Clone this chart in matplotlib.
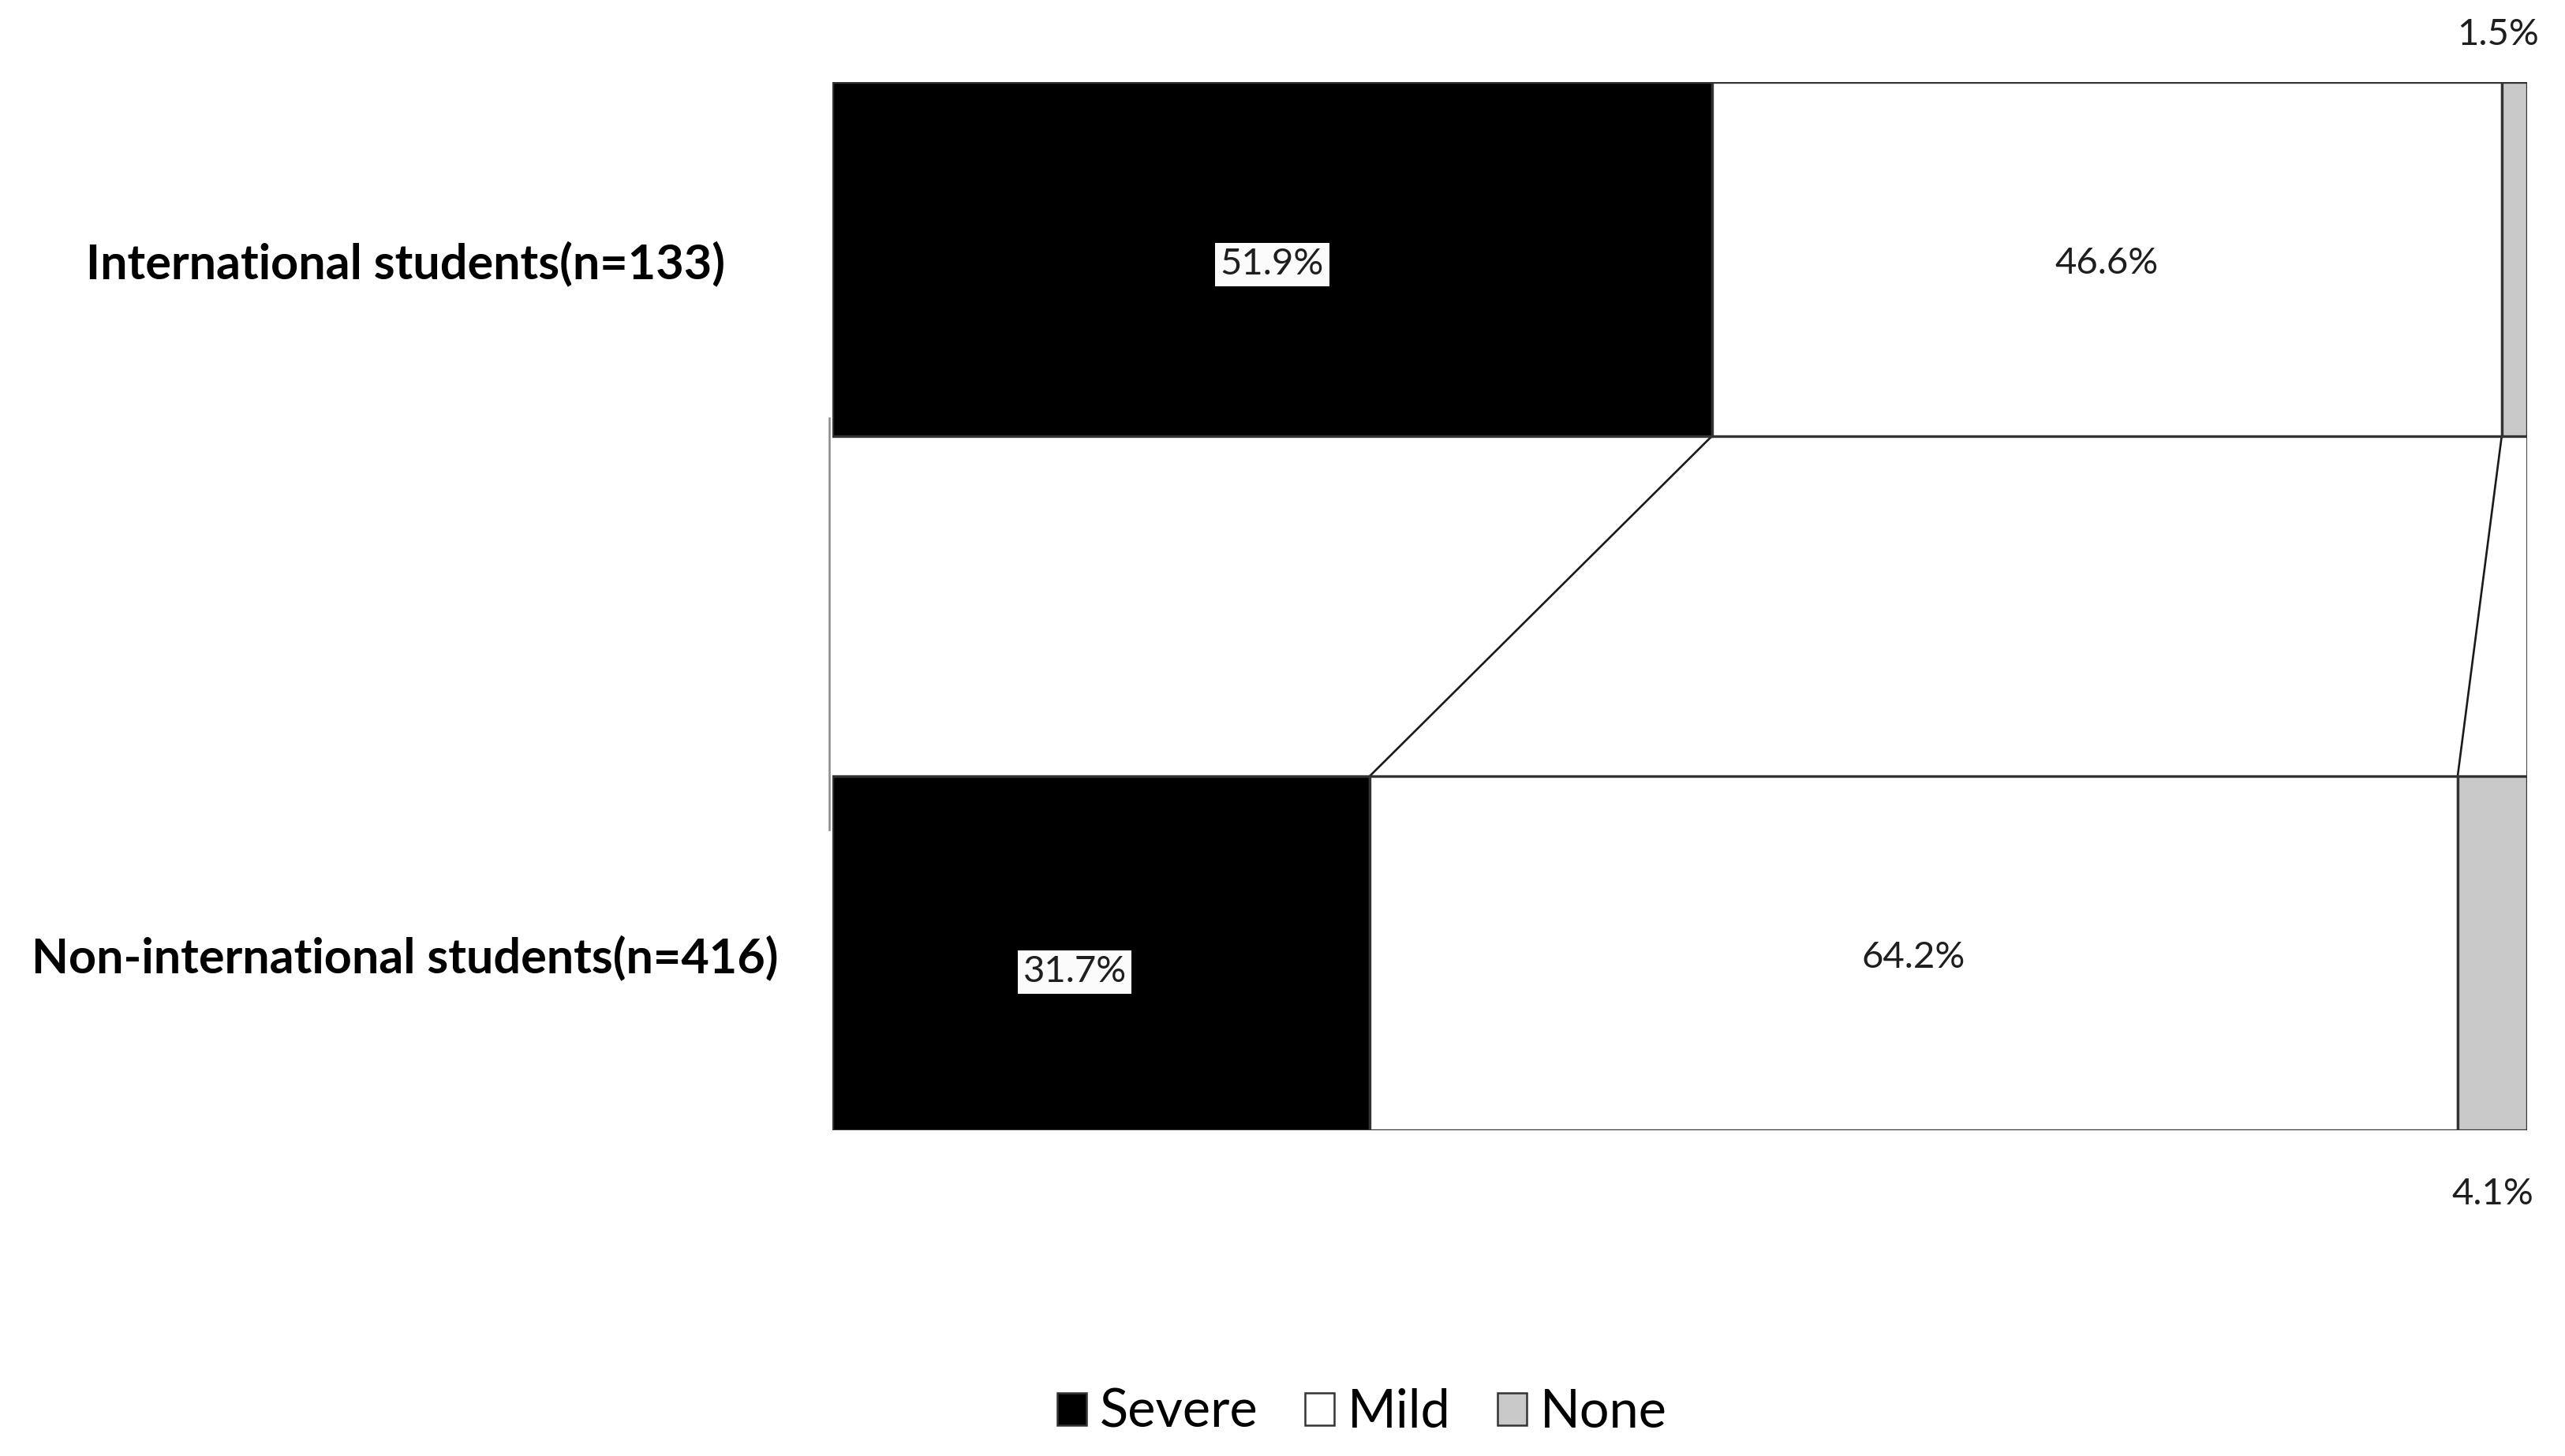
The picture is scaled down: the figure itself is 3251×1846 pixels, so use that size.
import matplotlib
matplotlib.use("Agg")
import matplotlib.pyplot as plt
from matplotlib.patches import Patch

plt.rcParams["font.family"] = ["Lato", "DejaVu Sans"]

# ---- data ----
categories = ["Non-international students(n=416)", "International students(n=133)"]
series_names = ["Severe", "Mild", "None"]
severe = [31.7, 51.9]
mild = [64.2, 46.6]
none = [4.1, 1.5]
colors = ["#000000", "#ffffff", "#c9c9c9"]

W, H = 3251, 1846
fig = plt.figure(figsize=(W / 100, H / 100), dpi=100)
ax = fig.add_axes([1055 / W, 413 / H, 2148 / W, 1329 / H])

ypos = [0, 1]
bh = 0.51
edge = "#333333"
data = [severe, mild, none]
lefts = [0.0, 0.0]
bounds = []
for vals, name, col in zip(data, series_names, colors):
    ax.barh(ypos, vals, left=lefts, height=bh, color=col, edgecolor=edge,
            linewidth=2.4, label=name, zorder=3)
    starts = list(lefts)
    lefts = [l + v for l, v in zip(lefts, vals)]
    bounds.append((starts, list(lefts)))

# series lines connecting the cumulative ends
for starts, ends in bounds:
    ax.plot([ends[1], ends[0]], [ypos[1] - bh / 2, ypos[0] + bh / 2],
            color="#1a1a1a", linewidth=1.9, zorder=2)

# data labels
lab_fs = 34
txt_col = "#1e1e1e"
box = dict(boxstyle="square,pad=0.14", facecolor="#fbfbfb", edgecolor="none")
# Severe
for i, (s, e) in enumerate(zip(*bounds[0])):
    v = severe[i]
    off = (0, -5) if i == 1 else (-24, -17)
    ax.annotate(f"{v:.1f}%", xy=((s + e) / 2, ypos[i]), xytext=off,
                textcoords="offset points", ha="center", va="center",
                fontsize=lab_fs, color=txt_col, bbox=box, zorder=5)
# Mild
for i, (s, e) in enumerate(zip(*bounds[1])):
    ax.annotate(f"{mild[i]:.1f}%", xy=((s + e) / 2, ypos[i]), xytext=(0, -4),
                textcoords="offset points", ha="center", va="center",
                fontsize=lab_fs, color=txt_col, zorder=5)
# None (outside bars)
for i, (s, e) in enumerate(zip(*bounds[2])):
    if i == 1:
        xy = ((s + e) / 2, ypos[i] + bh / 2)
        off = (-15, 43)
    else:
        xy = ((s + e) / 2, ypos[i] - bh / 2)
        off = (0, -58)
    ax.annotate(f"{none[i]:.1f}%", xy=xy, xytext=off, textcoords="offset points",
                ha="center", va="center", fontsize=lab_fs, color=txt_col, zorder=5)

# category labels
for yi, cat in zip(ypos, categories):
    ax.annotate(cat, xy=(-0.252, yi), xycoords=ax.get_yaxis_transform(),
                xytext=(0, -4), textcoords="offset points", ha="center",
                va="center", fontsize=44, fontweight="bold", color="#000000")

ax.set_xlim(0, 100)
ax.set_ylim(-bh / 2, 1 + bh / 2)
for sp in ["top", "right", "bottom"]:
    ax.spines[sp].set_visible(False)
ax.spines["left"].set_bounds(0.178, 0.7715)
ax.spines["left"].set_position(("outward", 3))
ax.spines["left"].set_color("#8a8a8a")
ax.spines["left"].set_linewidth(1.8)
ax.set_xticks([])
ax.set_yticks([])
ax.patch.set_visible(False)

handles = [Patch(facecolor=c, edgecolor=edge, linewidth=1.8) for c in colors]
fig.legend(handles, series_names, loc="center", bbox_to_anchor=(0.531, 1 - 1791 / H),
           ncol=3, frameon=False, fontsize=48, handlelength=0.55, handleheight=0.55,
           handletextpad=0.25, columnspacing=0.9)

fig.savefig("out.png", dpi=100, facecolor="white")
